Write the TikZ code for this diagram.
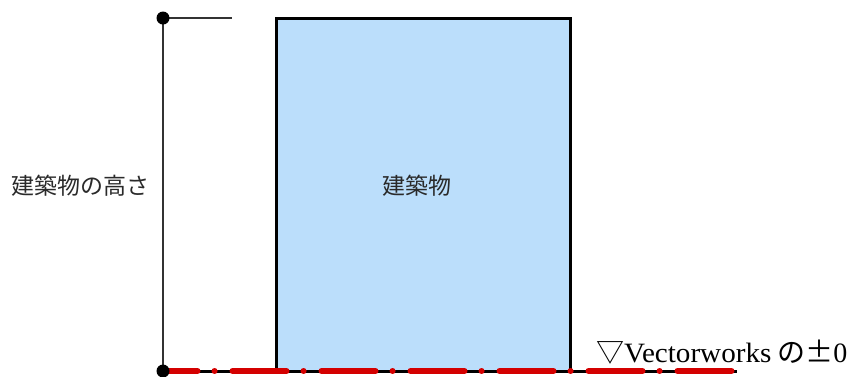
\documentclass[tikz,border=0pt]{standalone}
\usepackage{fontspec}
\usepackage{graphicx}
\newfontfamily\cjk{Noto Sans CJK JP}
\newfontfamily\serifjp{Liberation Serif}
\definecolor{bldgfill}{HTML}{BBDEFB}
\definecolor{gred}{HTML}{D40000}
\definecolor{txt}{HTML}{2A2A2A}
\tikzset{
  bldg/.style={draw=black, line width=3pt, fill=bldgfill, minimum width=294pt, minimum height=353pt, inner sep=0pt},
  dimline/.style={draw=black!80, line width=1.4pt},
  dotmark/.style={circle, fill=black, minimum size=13pt, inner sep=0pt},
  groundblack/.style={draw=black, line width=3pt},
  groundred/.style={draw=gred, line width=6pt, line cap=round, dash pattern=on 54pt off 17pt on 0.1pt off 17.9pt, dash phase=19.5pt},
  lbl/.style={font=\cjk\fontsize{23pt}{26pt}\selectfont, text=txt, inner sep=0pt},
}
\begin{document}
\begin{tikzpicture}[x=1pt,y=-1pt]
\useasboundingbox (0,0) rectangle (849,376);
\coordinate (topc) at (163,18);
\coordinate (botc) at (163,371);
\coordinate (tick) at (232,18);
\coordinate (gend) at (737,371);
\coordinate (rend) at (734,371);
\draw[dimline] (topc) -- (botc);
\draw[dimline] (topc) -- (tick);
\node[bldg] (b) at (423,194.5) {};
\node[lbl] (bl) at (417,186) {建築物};
\node[lbl] (hl) at (81,186) {建築物の高さ};
\draw[groundblack] (botc) -- (gend);
\draw[groundred] (botc) -- (rend);
\node[dotmark] (top) at (topc) {};
\node[dotmark] (bot) at (botc) {};
\node[anchor=base west, inner sep=0pt, text=black] (gl) at (596,362)
  {\fontsize{28pt}{31pt}\selectfont{\cjk ▽}\scalebox{1.04}[1]{\serifjp Vectorworks}\hspace{6pt}{\cjk の±}{\serifjp 0}};
\end{tikzpicture}
\end{document}
